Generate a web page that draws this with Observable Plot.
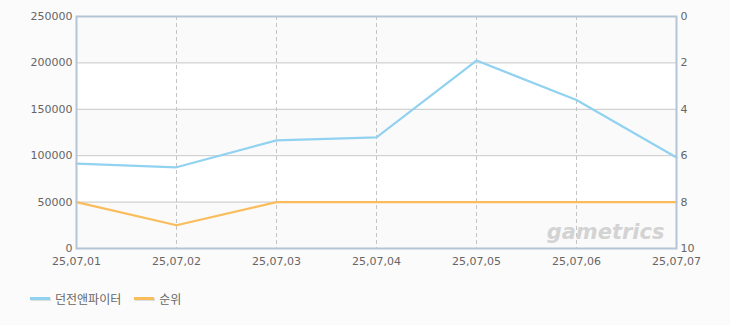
<!DOCTYPE html>
<html><head><meta charset="utf-8">
<script src="https://cdn.jsdelivr.net/npm/d3@7"></script>
<script src="https://cdn.jsdelivr.net/npm/@observablehq/plot@0.6"></script>
<style>
body{margin:0;background:#fbfbfb;font-family:"Noto Sans CJK KR","Noto Sans",sans-serif;}
#legend{display:flex;margin-left:30px;margin-top:10px;font-size:12px;color:#666;}
.item{display:flex;align-items:center;margin-right:13px;}
.sw{width:20px;height:3px;margin-right:5px;box-shadow:1px 1px 0 #ddd;}
</style></head><body>
<div id="chart"></div>
<div id="legend"></div>
<script>
const dates = ["25,07,01","25,07,02","25,07,03","25,07,04","25,07,05","25,07,06","25,07,07"];
const players = [91500, 87500, 116500, 119800, 202500, 160000, 98000];
const ranks = [8, 9, 8, 8, 8, 8, 8];
const leftTicks = [0, 50000, 100000, 150000, 200000, 250000];
const rightTicks = [0, 2, 4, 6, 8, 10];
const seriesNames = ["던전앤파이터", "순위"];
const colors = ["#92d2f1", "#fbbd5b"];

const yMax = 250000, rMax = 10;
const rankToY = r => (rMax - r) / rMax * yMax;

const bands = [[200000,250000],[100000,150000],[0,50000]];
const whiteBands = [[150000,200000],[50000,100000]];

const chart = Plot.plot({
  width: 730, height: 280,
  marginTop: 16, marginLeft: 76, marginRight: 54, marginBottom: 32,
  style: {background: "#fbfbfb", fontFamily: "'DejaVu Sans', sans-serif", fontSize: "11px", color: "#666"},
  x: {type: "point", domain: dates, padding: 0, label: null},
  y: {domain: [0, yMax], label: null},
  marks: [
    Plot.rect(whiteBands, {x1: () => dates[0], x2: () => dates[dates.length-1], y1: d => d[0], y2: d => d[1], fill: "#ffffff"}),
    Plot.rect(bands, {x1: () => dates[0], x2: () => dates[dates.length-1], y1: d => d[0], y2: d => d[1], fill: "#fafafa"}),
    Plot.ruleY(leftTicks.slice(1, -1), {stroke: "#c8c8c8", strokeWidth: 1}),
    Plot.ruleX(dates.slice(1, -1), {stroke: "#c4c4c4", strokeDasharray: "4,3", strokeWidth: 1}),
    Plot.text(["gametrics"], {frameAnchor: "bottom-right", dx: -12, dy: -10, fontSize: 21, fontWeight: "bold", fontStyle: "italic", fill: "#d3d3d3", fontFamily: "'DejaVu Sans', sans-serif", textAnchor: "end", lineAnchor: "bottom"}),
    Plot.line(dates.map((d, i) => ({d, v: players[i]})), {x: "d", y: "v", stroke: colors[0], strokeWidth: 2.2}),
    Plot.line(dates.map((d, i) => ({d, v: rankToY(ranks[i])})), {x: "d", y: "v", stroke: colors[1], strokeWidth: 2.2}),
    Plot.frame({stroke: "#b3c5d7", strokeWidth: 2}),
    Plot.axisY(leftTicks, {anchor: "left", tickSize: 0, tickPadding: 4, fill: "#666", fontSize: 11, tickFormat: v => String(v)}),
    Plot.axisY(rightTicks.map(rankToY), {anchor: "right", tickSize: 0, tickPadding: 4, fill: "#666", fontSize: 11, tickFormat: v => String(Math.round(rMax - v / yMax * rMax))}),
    Plot.axisX(dates, {anchor: "bottom", tickSize: 0, tickPadding: 9, fill: "#666", fontSize: 11})
  ]
});
document.getElementById("chart").appendChild(chart);

const lg = document.getElementById("legend");
seriesNames.forEach((n, i) => {
  const it = document.createElement("div"); it.className = "item";
  const sw = document.createElement("span"); sw.className = "sw"; sw.style.background = colors[i];
  const t = document.createElement("span"); t.textContent = n;
  it.appendChild(sw); it.appendChild(t); lg.appendChild(it);
});
</script>
</body></html>
